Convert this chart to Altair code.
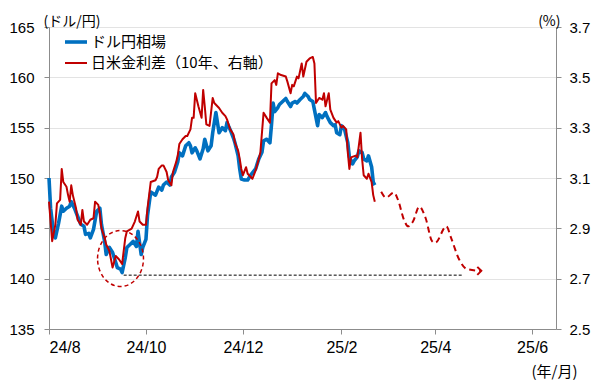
import altair as alt
import pandas as pd

# ---------------- data ----------------
blue_dates = [
    "2024-08-01", "2024-08-02", "2024-08-04", "2024-08-05", "2024-08-07", "2024-08-09", "2024-08-10",
    "2024-08-12", "2024-08-14", "2024-08-15", "2024-08-17", "2024-08-19", "2024-08-21", "2024-08-23",
    "2024-08-24", "2024-08-26", "2024-08-27", "2024-08-29", "2024-08-31", "2024-09-02", "2024-09-03",
    "2024-09-05", "2024-09-06", "2024-09-08", "2024-09-10", "2024-09-11", "2024-09-13", "2024-09-15",
    "2024-09-16", "2024-09-18", "2024-09-19", "2024-09-21", "2024-09-23", "2024-09-25", "2024-09-26",
    "2024-09-28", "2024-09-29", "2024-10-01", "2024-10-02", "2024-10-04", "2024-10-07", "2024-10-09",
    "2024-10-11", "2024-10-12", "2024-10-14", "2024-10-16", "2024-10-17", "2024-10-19", "2024-10-21",
    "2024-10-22", "2024-10-24", "2024-10-26", "2024-10-28", "2024-10-29", "2024-10-30", "2024-11-01",
    "2024-11-02", "2024-11-04", "2024-11-06", "2024-11-07", "2024-11-09", "2024-11-11", "2024-11-12",
    "2024-11-14", "2024-11-16", "2024-11-18", "2024-11-20", "2024-11-21", "2024-11-23", "2024-11-25",
    "2024-11-26", "2024-11-28", "2024-11-29", "2024-11-30", "2024-12-02", "2024-12-04", "2024-12-06",
    "2024-12-09", "2024-12-11", "2024-12-13", "2024-12-14", "2024-12-16", "2024-12-18", "2024-12-19",
    "2024-12-20", "2024-12-21", "2024-12-23", "2024-12-24", "2024-12-26", "2024-12-28", "2024-12-29",
    "2024-12-31", "2025-01-01", "2025-01-03", "2025-01-04", "2025-01-06", "2025-01-08", "2025-01-09",
    "2025-01-11", "2025-01-12", "2025-01-14", "2025-01-15", "2025-01-17", "2025-01-18", "2025-01-20",
    "2025-01-22", "2025-01-23", "2025-01-25", "2025-01-27", "2025-01-28", "2025-01-29", "2025-01-31",
    "2025-02-01", "2025-02-03", "2025-02-05", "2025-02-06", "2025-02-08", "2025-02-09", "2025-02-11",
    "2025-02-12", "2025-02-14", "2025-02-15", "2025-02-17", "2025-02-18", "2025-02-20", "2025-02-21",
    "2025-02-22",
]
blue_vals = [
    150.0, 147.0, 144.4, 144.05, 145.5, 147.2, 146.7,
    147.0, 147.2, 147.65, 147.0, 146.2, 145.4, 145.2,
    144.4, 144.5, 144.05, 144.9, 146.7, 147.0, 145.4,
    143.7, 142.4, 143.1, 142.6, 142.1, 141.1, 140.95,
    140.6, 142.1, 143.1, 143.4, 143.7, 143.2, 144.7,
    142.4, 143.1, 143.9, 146.3, 148.6, 148.3, 149.1,
    148.8, 149.3, 149.6, 149.3, 150.1, 150.6, 151.6,
    152.5, 152.2, 153.2, 153.5, 153.2, 152.5, 153.0,
    152.7, 151.9, 152.9, 153.85, 152.7, 153.2, 154.5,
    156.5, 154.5, 155.0, 154.7, 155.5, 154.8, 154.0,
    153.5, 152.2, 150.9, 149.9, 149.8, 149.8, 150.3,
    150.9, 151.9, 152.55, 153.7, 153.85, 153.5, 155.3,
    157.45, 156.6, 157.0, 157.3, 157.6, 157.9, 157.6,
    157.1, 157.45, 157.6, 157.45, 157.8, 158.1, 158.4,
    158.1, 157.8, 157.6, 156.8, 155.2, 156.3, 156.0,
    156.5, 156.1, 155.5, 155.2, 155.3, 154.5, 154.3,
    155.2, 154.8, 153.5, 152.1, 151.4, 151.7, 152.1,
    152.7, 152.55, 151.9, 151.7, 152.2, 151.1, 149.6,
    149.3,
]

red_dates = [
    "2024-08-01", "2024-08-03", "2024-08-05", "2024-08-06", "2024-08-08", "2024-08-09", "2024-08-10",
    "2024-08-12", "2024-08-13", "2024-08-14", "2024-08-15", "2024-08-16", "2024-08-18", "2024-08-19",
    "2024-08-21", "2024-08-22", "2024-08-23", "2024-08-25", "2024-08-27", "2024-08-29", "2024-08-30",
    "2024-09-01", "2024-09-02", "2024-09-03", "2024-09-05", "2024-09-06", "2024-09-08", "2024-09-10",
    "2024-09-12", "2024-09-14", "2024-09-16", "2024-09-18", "2024-09-19", "2024-09-22", "2024-09-24",
    "2024-09-26", "2024-09-27", "2024-09-29", "2024-10-01", "2024-10-02", "2024-10-04", "2024-10-07",
    "2024-10-08", "2024-10-09", "2024-10-11", "2024-10-12", "2024-10-14", "2024-10-15", "2024-10-17",
    "2024-10-18", "2024-10-20", "2024-10-21", "2024-10-22", "2024-10-24", "2024-10-26", "2024-10-27",
    "2024-10-29", "2024-10-30", "2024-10-31", "2024-11-01", "2024-11-03", "2024-11-05", "2024-11-06",
    "2024-11-07", "2024-11-08", "2024-11-10", "2024-11-12", "2024-11-13", "2024-11-16", "2024-11-18",
    "2024-11-20", "2024-11-21", "2024-11-23", "2024-11-25", "2024-11-26", "2024-11-28", "2024-11-29",
    "2024-11-30", "2024-12-01", "2024-12-03", "2024-12-04", "2024-12-07", "2024-12-09", "2024-12-11",
    "2024-12-12", "2024-12-14", "2024-12-16", "2024-12-18", "2024-12-19", "2024-12-21", "2024-12-22",
    "2024-12-23", "2024-12-25", "2024-12-28", "2024-12-29", "2024-12-31", "2025-01-01", "2025-01-02",
    "2025-01-04", "2025-01-05", "2025-01-07", "2025-01-08", "2025-01-10", "2025-01-12", "2025-01-14",
    "2025-01-15", "2025-01-16", "2025-01-18", "2025-01-20", "2025-01-21", "2025-01-22", "2025-01-24",
    "2025-01-25", "2025-01-27", "2025-01-29", "2025-01-30", "2025-02-01", "2025-02-02", "2025-02-04",
    "2025-02-05", "2025-02-06", "2025-02-07", "2025-02-10", "2025-02-11", "2025-02-13", "2025-02-14",
    "2025-02-15", "2025-02-17", "2025-02-18", "2025-02-20", "2025-02-21", "2025-02-22",
]
red_vals = [
    3.006, 2.849, 2.914, 2.999, 3.013, 3.136, 3.084,
    3.065, 3.032, 3.006, 3.071, 3.032, 2.980, 2.934,
    2.914, 2.973, 2.927, 2.914, 2.934, 2.940, 3.006,
    2.993, 2.960, 2.901, 2.862, 2.836, 2.810, 2.744,
    2.790, 2.777, 2.758, 2.862, 2.888, 2.899, 2.927,
    2.967, 2.927, 2.914, 2.914, 2.980, 3.084, 3.091,
    3.104, 3.136, 3.150, 3.150, 3.124, 3.091, 3.071,
    3.124, 3.163, 3.189, 3.235, 3.254, 3.267, 3.267,
    3.293, 3.339, 3.339, 3.437, 3.385, 3.339, 3.450,
    3.385, 3.313, 3.307, 3.418, 3.398, 3.378, 3.359,
    3.346, 3.333, 3.293, 3.274, 3.241, 3.209, 3.176,
    3.136, 3.111, 3.143, 3.117, 3.097, 3.130, 3.176,
    3.202, 3.359, 3.339, 3.320, 3.476, 3.489, 3.470,
    3.516, 3.509, 3.503, 3.483, 3.437, 3.470, 3.464,
    3.503, 3.496, 3.555, 3.503, 3.562, 3.575, 3.581,
    3.555, 3.398, 3.418, 3.411, 3.437, 3.385, 3.437,
    3.372, 3.339, 3.320, 3.326, 3.300, 3.307, 3.293,
    3.202, 3.136, 3.182, 3.189, 3.182, 3.280, 3.176,
    3.111, 3.097, 3.117, 3.084, 3.032, 3.006,
]

# hand-drawn outlook path (dashed red arrow)
outlook_dates = [
    "2025-02-26", "2025-03-01", "2025-03-06", "2025-03-09", "2025-03-12", "2025-03-15",
    "2025-03-18", "2025-03-22", "2025-03-26", "2025-03-30", "2025-04-01", "2025-04-08",
    "2025-04-11", "2025-04-16", "2025-04-21", "2025-04-30",
]
outlook_vals = [
    3.045, 3.022, 3.042, 3.006, 2.940, 2.908,
    2.927, 2.986, 2.940, 2.849, 2.842, 2.908,
    2.862, 2.777, 2.738, 2.731,
]

series_names = ["ドル円相場", "日米金利差（10年、右軸）"]
yen_ticks = [135, 140, 145, 150, 155, 160, 165]
pct_ticks = [2.5, 2.7, 2.9, 3.1, 3.3, 3.5, 3.7]
month_ticks = ["2024-08-01", "2024-10-01", "2024-12-01", "2025-02-01", "2025-04-01", "2025-06-01"]
x_domain = ["2024-08-01", "2025-06-16"]

level_start = ["2024-09-17"]
level_end = ["2025-04-18"]
level_yen = [140.35]
circle_date = ["2024-09-15"]
circle_yen = [142.0]

BLUE = "#0070C0"
RED = "#C00000"
AXIS_GRAY = "#8c8c8c"


def dt(s):
    y, m, d = (int(p) for p in s.split("-"))
    return alt.DateTime(year=y, month=m, date=d)


def ts(lst):
    return [s + "T00:00:00" for s in lst]


df_blue = pd.DataFrame({"date": ts(blue_dates), "v": blue_vals, "series": series_names[0]})
df_red = pd.DataFrame({"date": ts(red_dates), "v": red_vals, "series": series_names[1]})
df_out = pd.DataFrame({"date": ts(outlook_dates), "v": outlook_vals})
df_arrow = df_out.tail(1)
df_level = pd.DataFrame({"start": ts(level_start), "end": ts(level_end), "v": level_yen})
df_circle = pd.DataFrame({"date": ts(circle_date), "v": circle_yen})

x_axis = alt.Axis(
    values=[dt(s) for s in month_ticks],
    labelExpr="timeFormat(datum.value, '%y') + '/' + (month(datum.value) + 1)",
    grid=False, domainColor=AXIS_GRAY, tickColor=AXIS_GRAY, tickSize=5,
    labelFont="Liberation Sans", labelFontSize=16, labelColor="#000", labelPadding=5,
    title="(年/月)", titleFont="Noto Sans CJK JP", titleFontSize=15, titleFontWeight="normal",
    titleColor="#000", titleAngle=0, titleAlign="right", titleBaseline="middle",
    titleX=528, titleY=42,
)
x_enc = alt.X("date:T", scale=alt.Scale(domain=[dt(x_domain[0]), dt(x_domain[1])]), axis=x_axis)

left_scale = alt.Scale(domain=[yen_ticks[0], yen_ticks[-1]], nice=False, zero=False)
left_axis = alt.Axis(
    values=yen_ticks, orient="left", grid=True, gridColor="#e3e3e3",
    domainColor=AXIS_GRAY, tickColor=AXIS_GRAY, tickSize=5,
    labelFont="Liberation Sans", labelFontSize=15, labelColor="#000", labelPadding=10,
    title="(ドル/円)", titleFont="Noto Sans CJK JP", titleFontSize=14, titleFontWeight="normal",
    titleColor="#000", titleAngle=0, titleAlign="left", titleBaseline="alphabetic",
    titleX=-6, titleY=-2,
)
right_scale = alt.Scale(domain=[pct_ticks[0], pct_ticks[-1]], nice=False, zero=False)
right_axis = alt.Axis(
    values=pct_ticks, orient="right", grid=False, format=".1f",
    domainColor=AXIS_GRAY, tickColor=AXIS_GRAY, tickSize=5,
    labelFont="Liberation Sans", labelFontSize=15, labelColor="#000", labelPadding=8,
    title="(%)", titleFont="Noto Sans CJK JP", titleFontSize=14, titleFontWeight="normal",
    titleColor="#000", titleAngle=0, titleAlign="right", titleBaseline="alphabetic",
    titleX=4, titleY=-2,
)
y_left = alt.Y("v:Q", scale=left_scale, axis=left_axis)
y_right = alt.Y("v:Q", scale=right_scale, axis=right_axis)

legend = alt.Legend(
    title=None, orient="none", legendX=14, legendY=2, direction="vertical",
    symbolType="stroke", symbolSize=484, labelFont="Noto Sans CJK JP", labelFontSize=15,
    labelColor="#000", labelOffset=2, rowPadding=1, padding=0, labelLimit=400,
)
color_enc = alt.Color("series:N", scale=alt.Scale(domain=series_names, range=[BLUE, RED]), legend=legend)
width_enc = alt.StrokeWidth(
    "series:N",
    scale=alt.Scale(type="point", domain=series_names, range=[3.6, 2.0], padding=0),
    legend=legend,
)

blue = alt.Chart(df_blue).mark_line(strokeJoin="round").encode(
    x=x_enc, y=y_left, color=color_enc, strokeWidth=width_enc
)
level = alt.Chart(df_level).mark_rule(color="#000", strokeWidth=1, strokeDash=[3, 2]).encode(
    x="start:T", x2="end:T", y=y_left
)
ELLIPSE = ("M-0.82,0C-0.82,-0.552,-0.453,-1,0,-1C0.453,-1,0.82,-0.552,0.82,0"
           "C0.82,0.552,0.453,1,0,1C-0.453,1,-0.82,0.552,-0.82,0Z")
circle = alt.Chart(df_circle).mark_point(
    shape=ELLIPSE, filled=False, size=3136, color=RED, strokeWidth=1.5,
    strokeDash=[4, 3], opacity=1,
).encode(x=x_enc, y=y_left)

red = alt.Chart(df_red).mark_line(strokeJoin="round").encode(
    x=x_enc, y=y_right, color=color_enc, strokeWidth=width_enc
)
outlook = alt.Chart(df_out).mark_line(
    color=RED, strokeWidth=2, strokeDash=[6, 4], interpolate="monotone"
).encode(x=x_enc, y=y_right)
arrow = alt.Chart(df_arrow).mark_point(
    shape="M-1,-1L0,0L-1,1", filled=False, size=64, color=RED, strokeWidth=2, opacity=1
).encode(x=x_enc, y=y_right)

left_group = alt.layer(blue, level, circle)
right_group = alt.layer(red, outlook, arrow)

chart = alt.layer(left_group, right_group).resolve_scale(y="independent").properties(
    width=507, height=302,
    autosize=alt.AutoSizeParams(type="none"),
    padding={"left": 41, "top": 19, "right": 36, "bottom": 52},
    background="white",
).configure_view(strokeWidth=0)

chart.save("out.html", embed_options={"renderer": "svg", "actions": False})
